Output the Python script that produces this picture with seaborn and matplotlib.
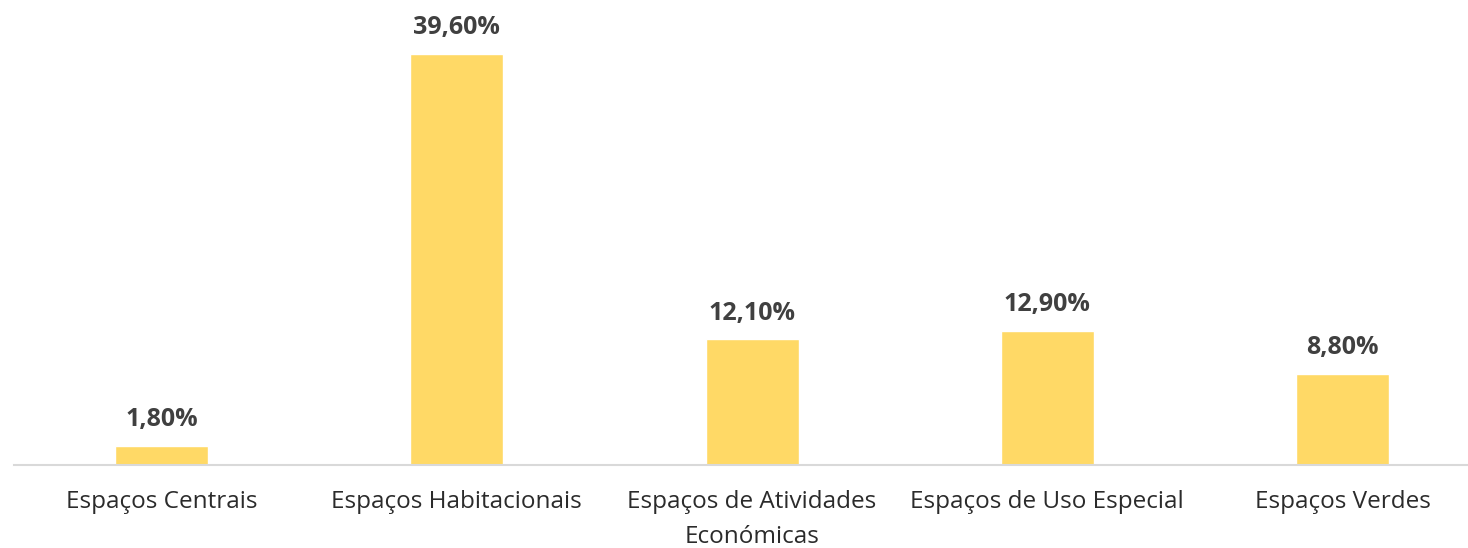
import matplotlib
matplotlib.use("Agg")
import matplotlib.pyplot as plt
import seaborn as sns
import pandas as pd

categories = ["Espaços Centrais", "Espaços Habitacionais",
              "Espaços de Atividades\nEconómicas", "Espaços de Uso Especial",
              "Espaços Verdes"]
values = [1.8, 39.6, 12.1, 12.9, 8.8]

df = pd.DataFrame({"categoria": categories, "percentagem": values})

sns.set_style("white")
plt.rcParams['font.family'] = ['Open Sans', 'DejaVu Sans']

fig = plt.figure(figsize=(14.68, 5.48), dpi=100)
ax = fig.add_axes([14 / 1468, 83 / 548, 1 - 14 / 1468, 465 / 548])

sns.barplot(data=df, x="categoria", y="percentagem", color="#FFD966",
            width=0.315, saturation=1, ax=ax)

# value labels, portuguese decimal comma
labels = [f"{v:.2f}".replace(".", ",") + "%" for v in values]
ax.bar_label(ax.containers[0], labels=labels, padding=10,
             fontsize=18, fontweight="bold", color="#404040")

ax.set_xlim(-0.5, 4.425)
ax.set_ylim(0, 44.8)
ax.set_xlabel("")
ax.set_ylabel("")
ax.set_yticks([])
ax.tick_params(axis="x", length=0, pad=18, labelsize=17.5, labelcolor="#2b2b2b")
for t in ax.get_xticklabels():
    t.set_linespacing(1.6)

for s in ["top", "right", "left"]:
    ax.spines[s].set_visible(False)
ax.spines["bottom"].set_color("#D9D9D9")
ax.spines["bottom"].set_linewidth(1.5)

fig.savefig("out.png", dpi=100)
